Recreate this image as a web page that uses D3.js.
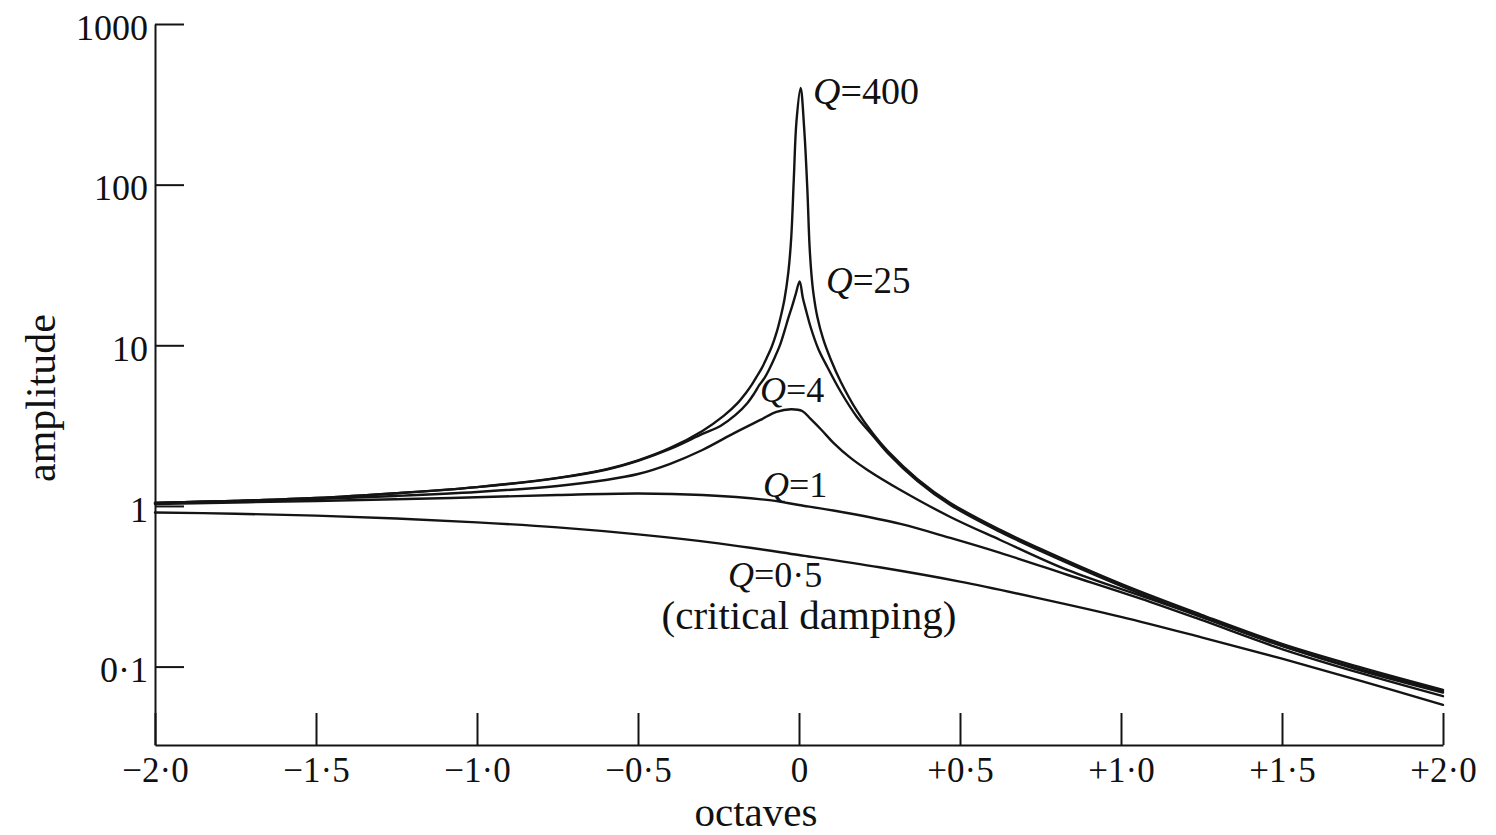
<!DOCTYPE html>
<html>
<head>
<meta charset="utf-8">
<script src="https://cdn.jsdelivr.net/npm/d3@7"></script>
<style>
  html, body { margin: 0; padding: 0; background: #fff; }
  svg { display: block; }
  text { font-family: "Liberation Serif", "DejaVu Serif", serif; fill: #111; }
</style>
</head>
<body>
<svg id="chart" width="1496" height="835"></svg>
<script>
// Axis ticks and their printed labels
const xTicks = [-2, -1.5, -1, -0.5, 0, 0.5, 1, 1.5, 2];
const xTickLabels = ["−2·0", "−1·5", "−1·0", "−0·5", "0", "+0·5", "+1·0", "+1·5", "+2·0"];
const yTicks = [0.1, 1, 10, 100, 1000];
const yTickLabels = ["0·1", "1", "10", "100", "1000"];

// Resonance curves: frequency offset in octaves and response amplitude
const octQ400 = [-2.0, -1.75, -1.5, -1.25, -1.0, -0.75, -0.6, -0.5, -0.4, -0.3, -0.234, -0.19, -0.166, -0.147, -0.132, -0.116, -0.101, -0.085, -0.07, -0.057, -0.045, -0.033, -0.024, -0.016, -0.008, 0.005, 0.016, 0.026, 0.0326, 0.0388, 0.045, 0.057, 0.075, 0.098, 0.13, 0.18, 0.23, 0.275, 0.368, 0.47, 0.625, 0.75, 1.0, 1.25, 1.5, 1.75, 2.0];
const ampQ400 = [1.044, 1.075, 1.12, 1.2, 1.31, 1.494, 1.687, 1.92, 2.296, 2.93, 3.633, 4.377, 5.015, 5.665, 6.353, 7.177, 8.283, 9.765, 11.94, 15.01, 19.43, 28.61, 47.25, 110, 246, 400, 225, 92.7, 42.1, 27.4, 20.9, 15.0, 10.95, 8.22, 5.91, 3.9, 2.81, 2.2, 1.47, 1.044, 0.709, 0.54, 0.327, 0.21, 0.1384, 0.0981, 0.0716];

const octQ25 = [-2.0, -1.75, -1.5, -1.25, -1.0, -0.75, -0.6, -0.5, -0.4, -0.3, -0.244, -0.197, -0.16, -0.138, -0.123, -0.107, -0.092, -0.076, -0.06, -0.045, -0.033, -0.021, -0.01, 0.002, 0.012, 0.024, 0.036, 0.06, 0.088, 0.13, 0.18, 0.23, 0.275, 0.368, 0.47, 0.625, 0.75, 1.0, 1.25, 1.5, 1.75, 2.0];
const ampQ25 = [1.044, 1.075, 1.12, 1.2, 1.31, 1.49, 1.68, 1.91, 2.264, 2.807, 3.148, 3.686, 4.377, 5.051, 5.665, 6.263, 7.126, 8.342, 9.906, 12.29, 14.8, 17.58, 20.87, 25, 19.7, 15.9, 13.0, 9.49, 7.33, 5.12, 3.58, 2.73, 2.14, 1.43, 1.015, 0.689, 0.525, 0.318, 0.204, 0.1345, 0.0953, 0.0705];

const octQ4 = [-2.0, -1.75, -1.5, -1.25, -1.0, -0.75, -0.6, -0.5, -0.4, -0.3, -0.2, -0.12, -0.07, -0.025, 0.01, 0.036, 0.07, 0.107, 0.16, 0.2126, 0.315, 0.47, 0.625, 0.833, 1.09, 1.25, 1.5, 1.75, 2.0];
const ampQ4 = [1.044, 1.073, 1.105, 1.154, 1.222, 1.332, 1.45, 1.58, 1.83, 2.23, 2.85, 3.43, 3.85, 4.0, 3.9, 3.48, 2.97, 2.47, 1.99, 1.675, 1.257, 0.854, 0.614, 0.3995, 0.2637, 0.2038, 0.1345, 0.0939, 0.069];

const octQ1 = [-2.0, -1.5, -1.08, -0.75, -0.5, -0.3, -0.1, 0.0, 0.15, 0.315, 0.47, 0.625, 0.833, 1.09, 1.25, 1.5, 1.75, 2.0];
const ampQ1 = [1.029, 1.074, 1.121, 1.17, 1.196, 1.17, 1.09, 1.014, 0.904, 0.773, 0.632, 0.51, 0.373, 0.253, 0.195, 0.1286, 0.0903, 0.0654];

const octQ05 = [-2.0, -1.75, -1.5, -1.25, -1.0, -0.75, -0.5, -0.25, 0.0, 0.25, 0.5, 0.75, 1.0, 1.25, 1.5, 1.75, 2.0];
const ampQ05 = [0.91, 0.895, 0.87, 0.835, 0.79, 0.735, 0.665, 0.585, 0.495, 0.415, 0.338, 0.265, 0.204, 0.152, 0.112, 0.081, 0.0578];

const seriesNames = ["Q=400", "Q=25", "Q=4", "Q=1", "Q=0·5"];
const seriesOct = [octQ400, octQ25, octQ4, octQ1, octQ05];
const seriesAmp = [ampQ400, ampQ25, ampQ4, ampQ1, ampQ05];

const svg = d3.select("#chart");
const ink = "#141414";

const x = d3.scaleLinear().domain([-2, 2]).range([155, 1443]);
const y = d3.scaleLog().domain([0.0325, 1000]).range([745, 24]);

// curves
const line = d3.line()
  .x(d => x(d[0]))
  .y(d => y(d[1]))
  .curve(d3.curveCatmullRom.alpha(0.5));

const curves = svg.append("g").attr("class", "curves");
seriesNames.forEach((name, i) => {
  const pts = seriesOct[i].map((o, j) => [o, seriesAmp[i][j]]);
  curves.append("path")
    .datum(pts)
    .attr("d", line)
    .attr("fill", "none")
    .attr("stroke", ink)
    .attr("stroke-width", 2.4)
    .attr("stroke-linejoin", "round")
    .attr("stroke-linecap", "round");
});

// x axis: ticks point upward into the plot
const xAxis = svg.append("g")
  .attr("transform", `translate(0,${y.range()[0]})`)
  .call(d3.axisBottom(x)
    .tickValues(xTicks)
    .tickFormat((d, i) => xTickLabels[i])
    .tickSizeInner(-32)
    .tickSizeOuter(0)
    .tickPadding(12));

// y axis: ticks point right, labels on the left
const yAxis = svg.append("g")
  .attr("transform", `translate(${x.range()[0]},0)`)
  .call(d3.axisLeft(y)
    .tickValues(yTicks)
    .tickFormat((d, i) => yTickLabels[i])
    .tickSizeInner(-29)
    .tickSizeOuter(0)
    .tickPadding(7));

[xAxis, yAxis].forEach(g => {
  g.attr("font-family", null).attr("font-size", null);
  g.select(".domain").attr("stroke", ink).attr("stroke-width", 2);
  g.selectAll(".tick line").attr("stroke", ink).attr("stroke-width", 2);
  g.selectAll(".tick text").attr("fill", ink);
});
xAxis.selectAll(".tick text").style("font-size", "35px");
yAxis.selectAll(".tick text").style("font-size", "36px").attr("dy", "0.42em");

// axis titles
svg.append("text")
  .attr("x", 756).attr("y", 826)
  .attr("text-anchor", "middle")
  .style("font-size", "41px")
  .text("octaves");

svg.append("text")
  .attr("transform", "translate(55,398) rotate(-90)")
  .attr("text-anchor", "middle")
  .style("font-size", "42px")
  .text("amplitude");

// curve annotations
const annot = [
  { i: 0, x: 813, y: 104, size: 38 },
  { i: 1, x: 826, y: 293, size: 37 },
  { i: 2, x: 760, y: 402, size: 36 },
  { i: 3, x: 763, y: 497, size: 36 },
  { i: 4, x: 728, y: 587, size: 36 }
];
annot.forEach(a => {
  const [q, rest] = seriesNames[a.i].split("=");
  const t = svg.append("text")
    .attr("x", a.x).attr("y", a.y)
    .style("font-size", a.size + "px");
  t.append("tspan").style("font-style", "italic").text(q);
  t.append("tspan").text("=" + rest);
});

svg.append("text")
  .attr("x", 809).attr("y", 629)
  .attr("text-anchor", "middle")
  .style("font-size", "41px")
  .text("(critical damping)");
</script>
</body>
</html>
